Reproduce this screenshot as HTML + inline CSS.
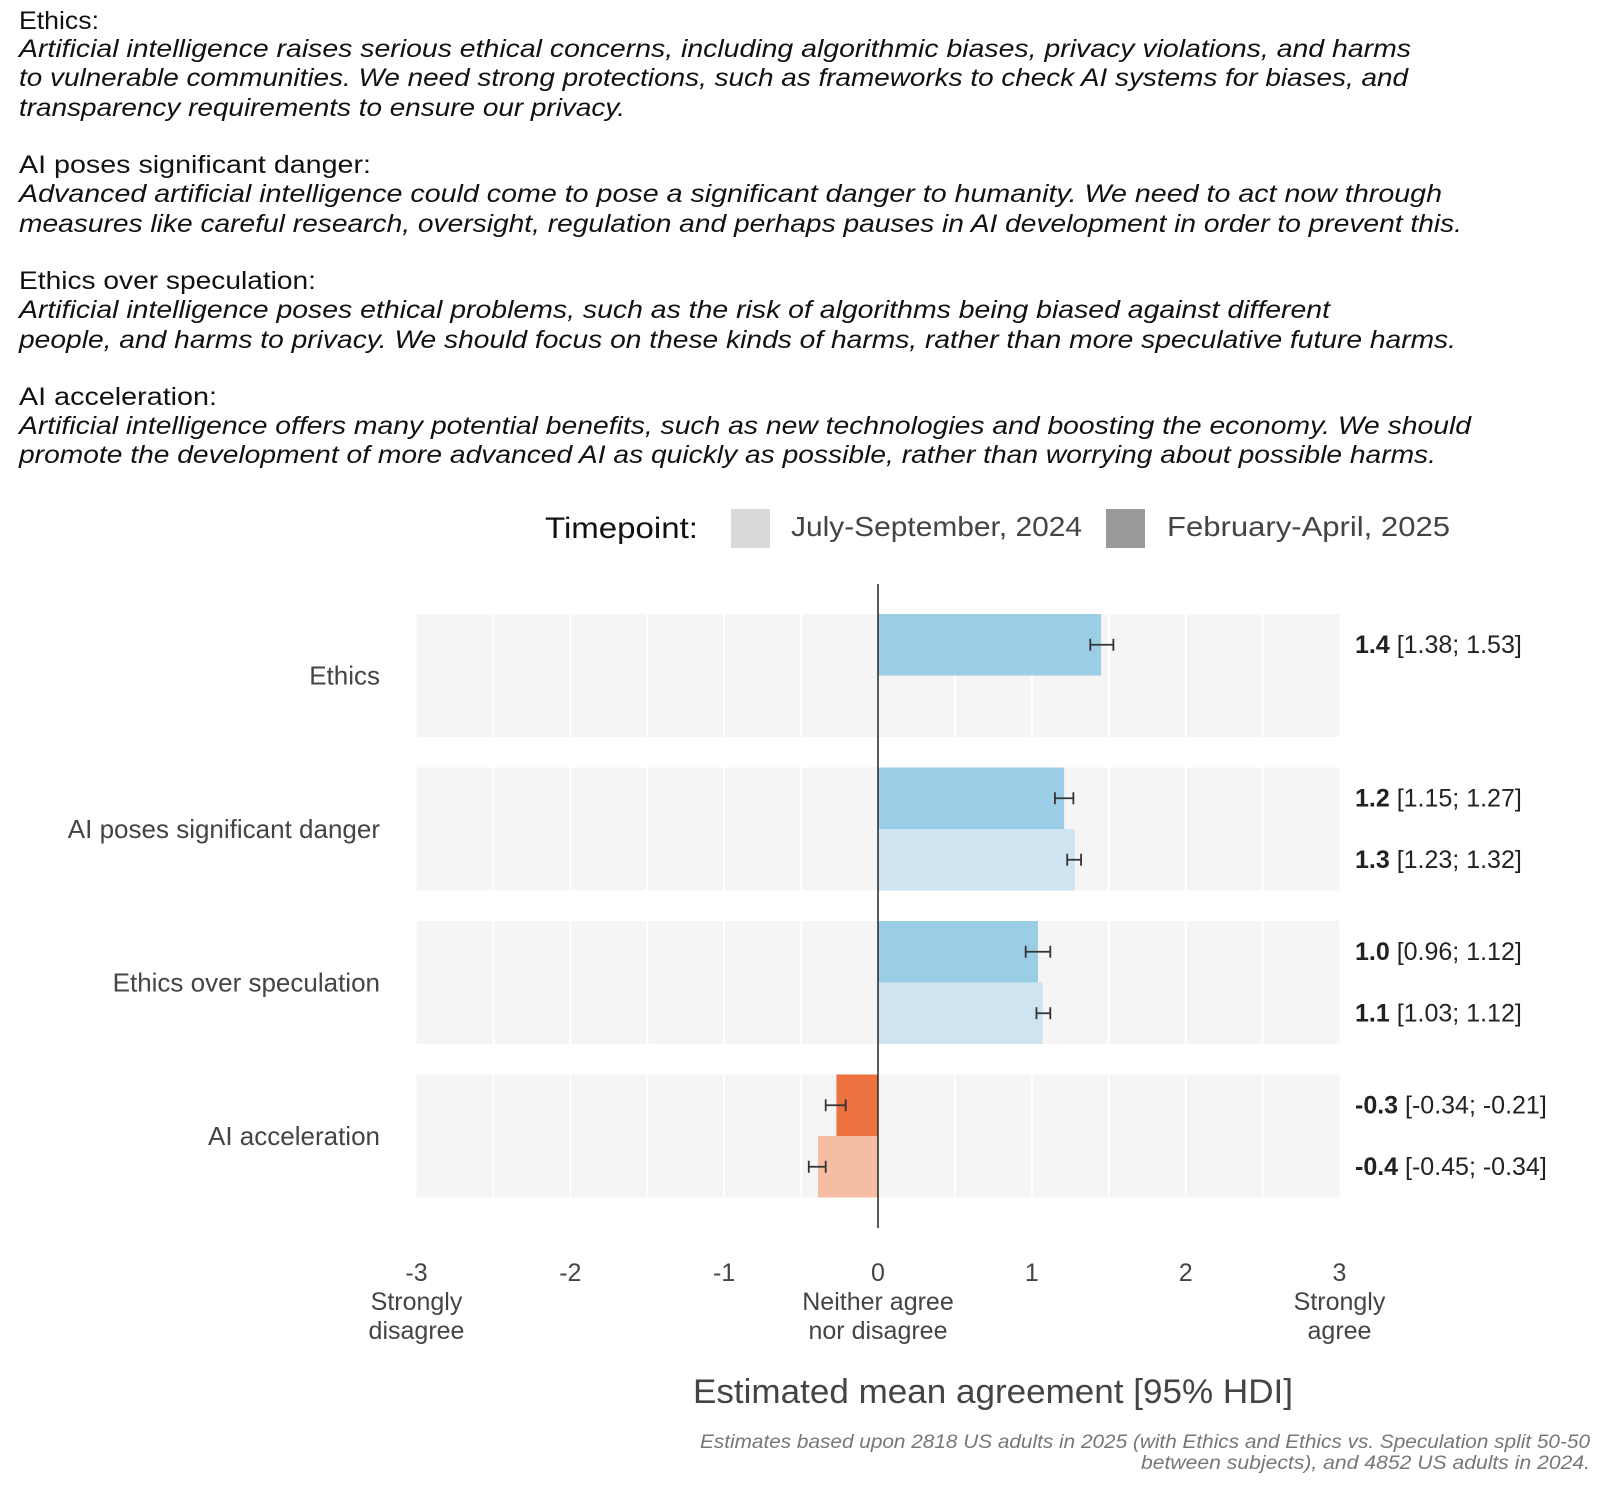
<!DOCTYPE html>
<html><head><meta charset="utf-8"><style>
html,body{margin:0;padding:0;background:#fff;}
svg{display:block;font-family:"Liberation Sans",sans-serif;}
</style></head><body>
<svg id="chart" width="1600" height="1488" viewBox="0 0 1600 1488" xmlns="http://www.w3.org/2000/svg">
<g font-size="25" fill="#111">
<text x="19" y="29" textLength="80" lengthAdjust="spacingAndGlyphs">Ethics:</text>
<text x="19" y="57" font-style="italic" textLength="1392" lengthAdjust="spacingAndGlyphs">Artificial intelligence raises serious ethical concerns, including algorithmic biases, privacy violations, and harms</text>
<text x="19" y="86" font-style="italic" textLength="1389" lengthAdjust="spacingAndGlyphs">to vulnerable communities. We need strong protections, such as frameworks to check AI systems for biases, and</text>
<text x="19" y="116" font-style="italic" textLength="606" lengthAdjust="spacingAndGlyphs">transparency requirements to ensure our privacy.</text>
<text x="19" y="173" textLength="352" lengthAdjust="spacingAndGlyphs">AI poses significant danger:</text>
<text x="19" y="202" font-style="italic" textLength="1423" lengthAdjust="spacingAndGlyphs">Advanced artificial intelligence could come to pose a significant danger to humanity. We need to act now through</text>
<text x="19" y="232" font-style="italic" textLength="1443" lengthAdjust="spacingAndGlyphs">measures like careful research, oversight, regulation and perhaps pauses in AI development in order to prevent this.</text>
<text x="19" y="289" textLength="297" lengthAdjust="spacingAndGlyphs">Ethics over speculation:</text>
<text x="19" y="318" font-style="italic" textLength="1311" lengthAdjust="spacingAndGlyphs">Artificial intelligence poses ethical problems, such as the risk of algorithms being biased against different</text>
<text x="19" y="348" font-style="italic" textLength="1437" lengthAdjust="spacingAndGlyphs">people, and harms to privacy. We should focus on these kinds of harms, rather than more speculative future harms.</text>
<text x="19" y="405" textLength="198" lengthAdjust="spacingAndGlyphs">AI acceleration:</text>
<text x="19" y="434" font-style="italic" textLength="1452" lengthAdjust="spacingAndGlyphs">Artificial intelligence offers many potential benefits, such as new technologies and boosting the economy. We should</text>
<text x="19" y="463" font-style="italic" textLength="1417" lengthAdjust="spacingAndGlyphs">promote the development of more advanced AI as quickly as possible, rather than worrying about possible harms.</text>
</g>
<g>
<text x="545" y="538" font-size="30" fill="#111" textLength="153" lengthAdjust="spacingAndGlyphs">Timepoint:</text>
<rect x="731" y="509" width="39" height="39" fill="#d9d9d9"/>
<text x="791" y="536" font-size="28" fill="#444" textLength="291" lengthAdjust="spacingAndGlyphs">July-September, 2024</text>
<rect x="1106" y="509" width="39" height="39" fill="#999"/>
<text x="1167" y="536" font-size="28" fill="#444" textLength="283" lengthAdjust="spacingAndGlyphs">February-April, 2025</text>
</g>
<g id="plot"></g>
<text x="993" y="1403" text-anchor="middle" font-size="34" fill="#444" textLength="600" lengthAdjust="spacingAndGlyphs">Estimated mean agreement [95% HDI]</text>
<text x="1590" y="1448" text-anchor="end" font-size="19" font-style="italic" fill="#777" textLength="890" lengthAdjust="spacingAndGlyphs">Estimates based upon 2818 US adults in 2025 (with Ethics and Ethics vs. Speculation split 50-50</text>
<text x="1590" y="1469" text-anchor="end" font-size="19" font-style="italic" fill="#777" textLength="449" lengthAdjust="spacingAndGlyphs">between subjects), and 4852 US adults in 2024.</text>
</svg>
<script>
const categories = ["Ethics", "AI poses significant danger", "Ethics over speculation", "AI acceleration"];
const values2025 = [1.45, 1.21, 1.04, -0.27];
const values2024 = [null, 1.28, 1.07, -0.39];
const lo2025 = [1.38, 1.15, 0.96, -0.34];
const hi2025 = [1.53, 1.27, 1.12, -0.21];
const lo2024 = [null, 1.23, 1.03, -0.45];
const hi2024 = [null, 1.32, 1.12, -0.34];
const labelMain2025 = ["1.4", "1.2", "1.0", "-0.3"];
const labelCI2025 = ["[1.38; 1.53]", "[1.15; 1.27]", "[0.96; 1.12]", "[-0.34; -0.21]"];
const labelMain2024 = [null, "1.3", "1.1", "-0.4"];
const labelCI2024 = [null, "[1.23; 1.32]", "[1.03; 1.12]", "[-0.45; -0.34]"];
const tickValues = [-3, -2, -1, 0, 1, 2, 3];
const tickSub1 = ["Strongly", "", "", "Neither agree", "", "", "Strongly"];
const tickSub2 = ["disagree", "", "", "nor disagree", "", "", "agree"];

const NS = "http://www.w3.org/2000/svg";
const g = document.getElementById("plot");
const X0 = 416.5, X1 = 1339.5, XMIN = -3, XMAX = 3;
const x = v => X0 + (v - XMIN) / (XMAX - XMIN) * (X1 - X0);
const PANEL_TOP = 614, PANEL_STEP = 153.5, PANEL_H = 123, BAR_H = 61.5;
const panelY = i => PANEL_TOP + i * PANEL_STEP;
function mk(tag, attrs, parent) {
  const e = document.createElementNS(NS, tag);
  for (const k in attrs) e.setAttribute(k, attrs[k]);
  (parent || g).appendChild(e);
  return e;
}
categories.forEach((c, i) => {
  const py = panelY(i);
  const bg = mk("rect", {x: X0, y: py, width: X1 - X0, height: PANEL_H, fill: "#f5f5f5"});
  
  
  for (let v = -2.5; v <= 2.5; v += 0.5) {
    const gl = mk("line", {x1: x(v), x2: x(v), y1: py, y2: py + PANEL_H, stroke: "#fff", "stroke-width": 2});
    
    
  }
  const lab = mk("text", {x: 380, y: py + PANEL_H / 2 + 9, "text-anchor": "end", "font-size": 26, fill: "#444"});
  lab.textContent = c;
  
  
});
function drawBar(i, slot, val, lo, hi, main, ci, color) {
  if (val === null) return;
  const y = panelY(i) + slot * BAR_H;
  const b = mk("rect", {x: Math.min(x(0), x(val)), y: y, width: Math.abs(x(val) - x(0)), height: BAR_H, fill: color});
  
  
  const cy = y + BAR_H / 2;
  const eg = mk("g", {stroke: "#333", "stroke-width": 1.8});
  
  
  mk("line", {x1: x(lo), x2: x(hi), y1: cy, y2: cy}, eg);
  mk("line", {x1: x(lo), x2: x(lo), y1: cy - 6, y2: cy + 6}, eg);
  mk("line", {x1: x(hi), x2: x(hi), y1: cy - 6, y2: cy + 6}, eg);
  const t = mk("text", {x: 1355, y: cy + 8, "font-size": 25, fill: "#222"});
  
  
  const s1 = mk("tspan", {"font-weight": "bold"}, t); s1.textContent = main + " ";
  const s2 = mk("tspan", {}, t); s2.textContent = ci;
}
categories.forEach((c, i) => {
  const neg = values2025[i] < 0;
  drawBar(i, 0, values2025[i], lo2025[i], hi2025[i], labelMain2025[i], labelCI2025[i], neg ? "#ee7240" : "#9ccde6");
  drawBar(i, 1, values2024[i], lo2024[i], hi2024[i], labelMain2024[i], labelCI2024[i], (values2024[i] !== null && values2024[i] < 0) ? "#f4bda4" : "#cfe4f1");
});
const ax = mk("line", {x1: x(0), x2: x(0), y1: 584, y2: 1228, stroke: "#222", "stroke-width": 1.5});


tickValues.forEach((v, k) => {
  const t = mk("text", {x: x(v), y: 1281, "text-anchor": "middle", "font-size": 25, fill: "#444"});
  t.textContent = String(v);
  
  
  [tickSub1[k], tickSub2[k]].forEach((s, j) => {
    if (!s) return;
    const st = mk("text", {x: x(v), y: 1310 + j * 29, "text-anchor": "middle", "font-size": 25, fill: "#444"});
    st.textContent = s;
    
    
  });
});
</script>
</body></html>
